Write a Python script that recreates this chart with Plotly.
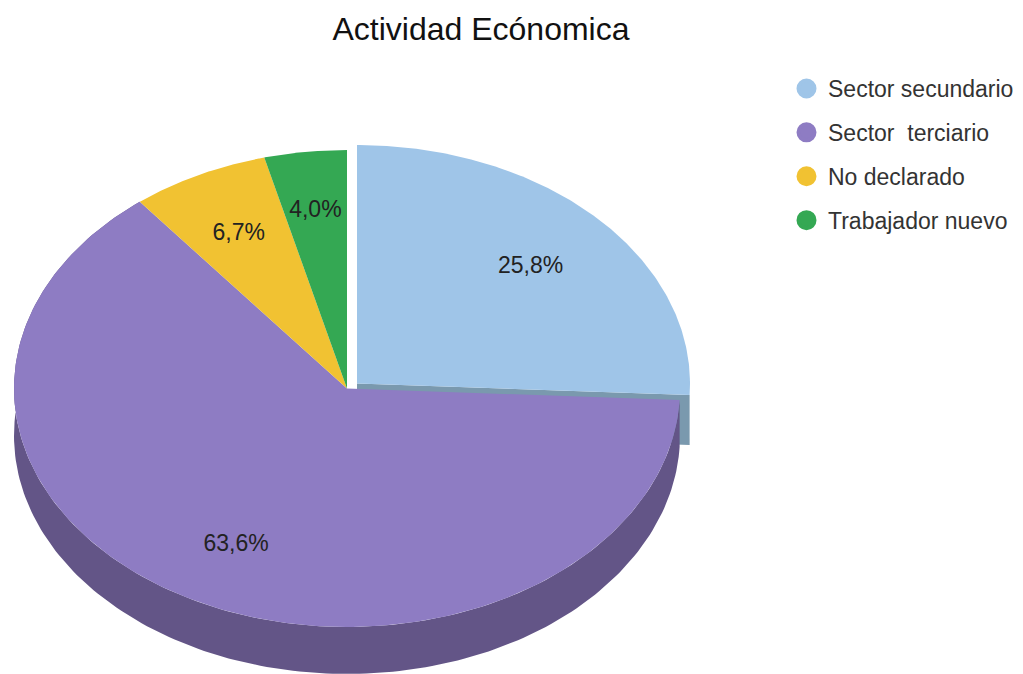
import numpy as np
import plotly.graph_objects as go

title = "Actividad Ecónomica"
categories = ["Sector secundario", "Sector  terciario", "No declarado", "Trabajador nuevo"]
values = [25.8, 63.6, 6.7, 4.0]
top_colors = ["#9fc5e8", "#8e7cc3", "#f1c232", "#34a853"]
side_colors = ["#7a99ae", "#635587", "#a98822", "#24753a"]

W, H = 1023, 674
CX, CY = 347, 388.5    # pie centre
RX, RY = 333, 238.5    # ellipse radii
DEPTH = 47             # extrusion
EXPLODE = {0: (10, -5)}
LABEL_F = [0.72, 0.73, 0.73, 0.758]
LABEL_DY = 2

total = sum(values)
edges = np.cumsum([0] + values) / total * 2 * np.pi


def rim(a0, a1, ox=0, oy=0, n=200):
    t = np.linspace(a0, a1, n)
    return CX + ox + RX * np.sin(t), CY + oy - RY * np.cos(t)


fig = go.Figure()


def add_poly(x, y, color):
    fig.add_trace(go.Scatter(x=list(x), y=list(y), mode="lines", fill="toself",
                             fillcolor=color, line=dict(width=0),
                             hoverinfo="skip", showlegend=False))


# Extruded sides: exploded slice wall first, then the walls of the others
ox, oy = EXPLODE[0]
xr, yr = rim(edges[0], edges[1], ox, oy)
add_poly([CX + ox, xr[-1], xr[-1], CX + ox],
         [CY + oy, yr[-1], yr[-1] + DEPTH + 3, CY + oy + DEPTH + 3], side_colors[0])
xr, yr = rim(edges[1], edges[2])
add_poly(np.r_[xr, xr[::-1]], np.r_[yr, yr[::-1] + DEPTH], side_colors[1])

# Top faces
for i in [0, 1, 2, 3]:
    ox, oy = EXPLODE.get(i, (0, 0))
    xr, yr = rim(edges[i], edges[i + 1], ox, oy)
    add_poly(np.r_[CX + ox, xr, CX + ox], np.r_[CY + oy, yr, CY + oy], top_colors[i])

# Percent labels
mids = (edges[:-1] + edges[1:]) / 2
lx, ly = [], []
for i, m in enumerate(mids):
    ox, oy = EXPLODE.get(i, (0, 0))
    lx.append(CX + ox + RX * LABEL_F[i] * np.sin(m))
    ly.append(CY + oy + LABEL_DY - RY * LABEL_F[i] * np.cos(m))
labels = [f"{v:.1f}%".replace(".", ",") for v in values]
fig.add_trace(go.Scatter(x=lx, y=ly, mode="text", text=labels, textposition="middle center",
                         textfont=dict(family="Liberation Sans", size=23, color="#222222"),
                         hoverinfo="skip", showlegend=False))

# Legend entries
for i, c in enumerate(categories):
    fig.add_trace(go.Scatter(x=[None], y=[None], mode="markers", name=c, legendgroup=c,
                             marker=dict(size=16, color=top_colors[i],
                                         line=dict(color=top_colors[i], width=4))))

fig.update_layout(
    width=W, height=H, margin=dict(l=0, r=0, t=0, b=0),
    paper_bgcolor="white", plot_bgcolor="white",
    title=dict(text=title, x=481 / W, xanchor="center", y=1 - 29 / H, yanchor="middle",
               font=dict(family="Liberation Sans", size=32, color="#111111")),
    xaxis=dict(range=[0, W], visible=False, fixedrange=True),
    yaxis=dict(range=[H, 0], visible=False, fixedrange=True),
    legend=dict(x=785 / W, xanchor="left", y=1 - 67 / H, yanchor="top", itemwidth=33,
                font=dict(family="Liberation Sans", size=23, color="#333333"),
                tracegroupgap=11, bgcolor="rgba(0,0,0,0)"),
)
fig.write_html("out.html", config=dict(displayModeBar=False),
               post_script="document.body.style.margin='0';document.documentElement.style.overflow='hidden';")
